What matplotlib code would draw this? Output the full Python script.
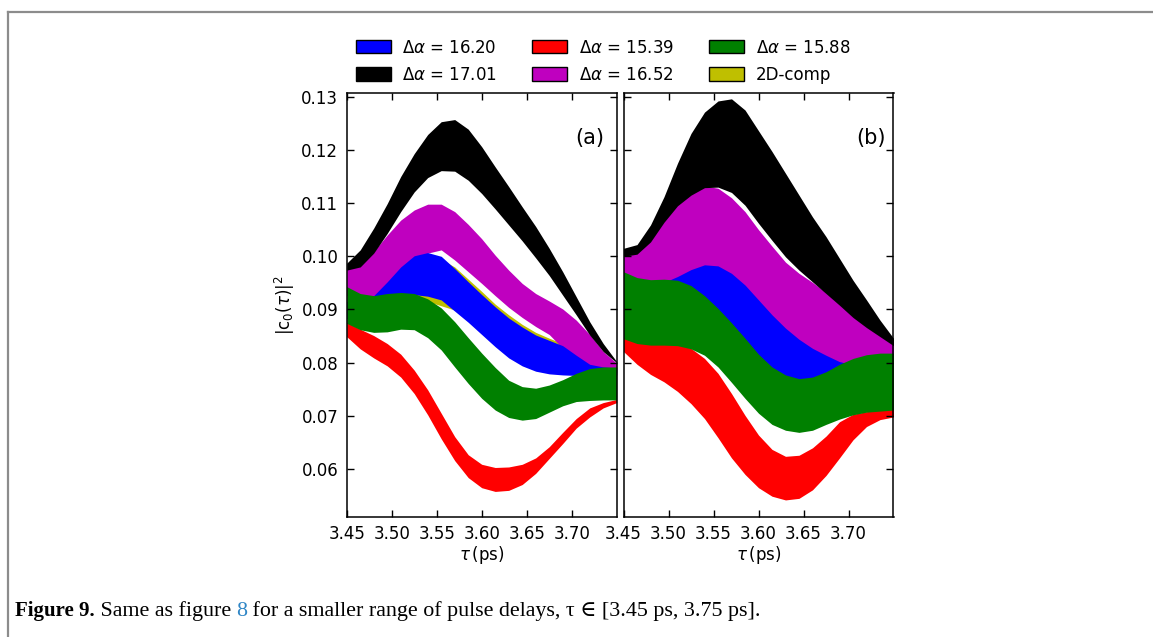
import numpy as np
import matplotlib.pyplot as plt
from matplotlib.patches import Patch
from matplotlib.lines import Line2D

# pulse delay grid (ps)
tau = [3.450, 3.465, 3.480, 3.495, 3.510, 3.525, 3.540, 3.555, 3.570, 3.585, 3.600,
       3.615, 3.630, 3.645, 3.660, 3.675, 3.690, 3.705, 3.720, 3.735, 3.750]

# panel (a): upper / lower edges of each band
a_black_hi = [0.0987, 0.1012, 0.1053, 0.1099, 0.1150, 0.1193, 0.1229, 0.1253, 0.1257, 0.1239, 0.1206,
              0.1168, 0.1131, 0.1093, 0.1056, 0.1015, 0.0971, 0.0924, 0.0877, 0.0836, 0.0802]
a_black_lo = [0.0974, 0.0980, 0.1006, 0.1043, 0.1084, 0.1121, 0.1148, 0.1161, 0.1160, 0.1143, 0.1118,
              0.1089, 0.1059, 0.1029, 0.0997, 0.0964, 0.0927, 0.0890, 0.0852, 0.0821, 0.0800]
a_mag_hi = [0.0975, 0.0984, 0.1009, 0.1040, 0.1068, 0.1087, 0.1098, 0.1098, 0.1084, 0.1060, 0.1033,
            0.1002, 0.0974, 0.0949, 0.0930, 0.0916, 0.0901, 0.0880, 0.0853, 0.0821, 0.0799]
a_mag_lo = [0.0926, 0.0921, 0.0921, 0.0933, 0.0958, 0.0983, 0.1006, 0.1012, 0.0993, 0.0971, 0.0949,
            0.0926, 0.0904, 0.0885, 0.0868, 0.0853, 0.0827, 0.0802, 0.0786, 0.0786, 0.0789]
a_blue_hi = [0.0915, 0.0918, 0.0926, 0.0952, 0.0980, 0.1001, 0.1007, 0.1000, 0.0977, 0.0952, 0.0928,
             0.0905, 0.0884, 0.0867, 0.0852, 0.0842, 0.0832, 0.0814, 0.0797, 0.0792, 0.0790]
a_blue_lo = [0.0883, 0.0883, 0.0890, 0.0899, 0.0912, 0.0928, 0.0925, 0.0918, 0.0897, 0.0876, 0.0853,
             0.0830, 0.0809, 0.0794, 0.0784, 0.0779, 0.0777, 0.0776, 0.0776, 0.0776, 0.0777]
a_yel_hi = [0.0908, 0.0911, 0.0920, 0.0946, 0.0974, 0.0995, 0.1000, 0.0994, 0.0980, 0.0957, 0.0934,
            0.0910, 0.0890, 0.0872, 0.0857, 0.0846, 0.0836, 0.0808, 0.0792, 0.0789, 0.0787]
a_yel_lo = [0.0890, 0.0890, 0.0896, 0.0905, 0.0918, 0.0921, 0.0915, 0.0907, 0.0899, 0.0880, 0.0858,
            0.0835, 0.0814, 0.0799, 0.0789, 0.0784, 0.0782, 0.0780, 0.0780, 0.0780, 0.0782]
a_green_hi = [0.0943, 0.0930, 0.0926, 0.0930, 0.0932, 0.0930, 0.0920, 0.0903, 0.0877, 0.0847, 0.0818,
              0.0791, 0.0767, 0.0755, 0.0752, 0.0758, 0.0768, 0.0780, 0.0789, 0.0792, 0.0792]
a_green_lo = [0.0874, 0.0862, 0.0857, 0.0858, 0.0863, 0.0862, 0.0847, 0.0824, 0.0792, 0.0761, 0.0733,
              0.0711, 0.0697, 0.0692, 0.0695, 0.0707, 0.0719, 0.0727, 0.0729, 0.0730, 0.0730]
a_red_hi = [0.0876, 0.0863, 0.0851, 0.0836, 0.0816, 0.0786, 0.0749, 0.0705, 0.0661, 0.0627, 0.0609,
            0.0603, 0.0604, 0.0609, 0.0621, 0.0642, 0.0669, 0.0695, 0.0715, 0.0725, 0.0731]
a_red_lo = [0.0849, 0.0826, 0.0809, 0.0794, 0.0773, 0.0742, 0.0702, 0.0657, 0.0616, 0.0584, 0.0565,
            0.0558, 0.0560, 0.0571, 0.0592, 0.0620, 0.0648, 0.0677, 0.0698, 0.0715, 0.0725]

# panel (b)
b_black_hi = [0.1015, 0.1022, 0.1059, 0.1112, 0.1175, 0.1231, 0.1271, 0.1292, 0.1296, 0.1275, 0.1236,
              0.1197, 0.1156, 0.1115, 0.1074, 0.1037, 0.0996, 0.0955, 0.0918, 0.0880, 0.0846]
b_black_lo = [0.1000, 0.1004, 0.1027, 0.1064, 0.1095, 0.1115, 0.1129, 0.1130, 0.1120, 0.1096, 0.1062,
              0.1030, 0.0999, 0.0974, 0.0952, 0.0930, 0.0908, 0.0885, 0.0866, 0.0849, 0.0832]
b_mag_hi = [0.1004, 0.1007, 0.1030, 0.1067, 0.1098, 0.1118, 0.1132, 0.1128, 0.1110, 0.1084, 0.1050,
            0.1019, 0.0989, 0.0968, 0.0951, 0.0932, 0.0910, 0.0887, 0.0868, 0.0851, 0.0834]
b_mag_lo = [0.0955, 0.0944, 0.0940, 0.0941, 0.0939, 0.0929, 0.0910, 0.0886, 0.0859, 0.0830, 0.0800,
            0.0776, 0.0761, 0.0754, 0.0757, 0.0767, 0.0781, 0.0792, 0.0799, 0.0802, 0.0802]
b_blue_hi = [0.0946, 0.0947, 0.0948, 0.0951, 0.0962, 0.0975, 0.0984, 0.0982, 0.0968, 0.0946, 0.0918,
             0.0890, 0.0865, 0.0844, 0.0827, 0.0814, 0.0802, 0.0796, 0.0792, 0.0790, 0.0788]
b_blue_lo = [0.0940, 0.0935, 0.0932, 0.0932, 0.0930, 0.0920, 0.0900, 0.0876, 0.0850, 0.0820, 0.0790,
             0.0768, 0.0752, 0.0745, 0.0748, 0.0758, 0.0772, 0.0775, 0.0778, 0.0780, 0.0780]
b_green_hi = [0.0971, 0.0960, 0.0956, 0.0957, 0.0955, 0.0945, 0.0926, 0.0902, 0.0875, 0.0846, 0.0816,
              0.0792, 0.0777, 0.0770, 0.0773, 0.0783, 0.0797, 0.0808, 0.0815, 0.0818, 0.0818]
b_green_lo = [0.0845, 0.0836, 0.0833, 0.0833, 0.0832, 0.0826, 0.0814, 0.0792, 0.0763, 0.0733, 0.0705,
              0.0684, 0.0673, 0.0669, 0.0673, 0.0684, 0.0694, 0.0702, 0.0707, 0.0709, 0.0711]
b_red_hi = [0.0847, 0.0840, 0.0836, 0.0836, 0.0834, 0.0827, 0.0808, 0.0780, 0.0742, 0.0701, 0.0664,
            0.0637, 0.0624, 0.0626, 0.0640, 0.0662, 0.0689, 0.0703, 0.0708, 0.0711, 0.0713]
b_red_lo = [0.0821, 0.0797, 0.0778, 0.0764, 0.0746, 0.0723, 0.0695, 0.0659, 0.0621, 0.0590, 0.0565,
            0.0549, 0.0542, 0.0545, 0.0561, 0.0588, 0.0621, 0.0655, 0.0680, 0.0693, 0.0698]

labels = [r'$\Delta\alpha$ = 16.20', r'$\Delta\alpha$ = 17.01', r'$\Delta\alpha$ = 15.39',
          r'$\Delta\alpha$ = 16.52', r'$\Delta\alpha$ = 15.88', '2D-comp']
colors = ['b', 'k', 'r', 'm', 'g', 'y']

xticks = [3.45, 3.50, 3.55, 3.60, 3.65, 3.70]
yticks = [0.06, 0.07, 0.08, 0.09, 0.10, 0.11, 0.12, 0.13]

W, H = 1153, 637
fig = plt.figure(figsize=(W / 100, H / 100), dpi=100)
ax_a = fig.add_axes([346.7 / W, 1 - 516.7 / H, 270 / W, 423.4 / H])
ax_b = fig.add_axes([623.5 / W, 1 - 516.7 / H, 270 / W, 423.4 / H])

# drawing order: yellow, magenta, blue, black, red, green
bands_a = [(a_yel_lo, a_yel_hi, 'y'), (a_mag_lo, a_mag_hi, 'm'), (a_blue_lo, a_blue_hi, 'b'),
           (a_black_lo, a_black_hi, 'k'), (a_red_lo, a_red_hi, 'r'), (a_green_lo, a_green_hi, 'g')]
bands_b = [(b_mag_lo, b_mag_hi, 'm'), (b_blue_lo, b_blue_hi, 'b'),
           (b_black_lo, b_black_hi, 'k'), (b_red_lo, b_red_hi, 'r'), (b_green_lo, b_green_hi, 'g')]

for ax, bands, tag, tx in [(ax_a, bands_a, '(a)', 0.90), (ax_b, bands_b, '(b)', 0.915)]:
    for lo, hi, c in bands:
        ax.fill_between(tau, lo, hi, color=c, lw=0)
    ax.set_xlim(3.45, 3.75)
    ax.set_ylim(0.05105, 0.13064)
    ax.set_xticks(xticks)
    ax.set_xticklabels(['%.2f' % v for v in xticks])
    ax.set_yticks(yticks)
    ax.set_yticklabels(['%.2f' % v for v in yticks])
    ax.tick_params(direction='in', top=True, right=True, length=5, width=1,
                   labelsize=12, pad=6)
    for s in ax.spines.values():
        s.set_linewidth(1.1)
    ax.set_xlabel(r'$\tau\,$(ps)', fontsize=12, labelpad=1)
    ax.text(tx, 0.895, tag, transform=ax.transAxes, fontsize=15, ha='center', va='center')

ax_b.tick_params(labelleft=False)
ax_a.set_ylabel(r'$|\mathrm{c}_0(\tau)|^2$', fontsize=12, labelpad=3)

handles = [Patch(facecolor=c, edgecolor='k', lw=1) for c in colors]
fig.legend(handles, labels, ncol=3, loc='center', bbox_to_anchor=(0.523, 0.904),
           frameon=False, fontsize=12, handlelength=2.1, handleheight=0.85,
           handletextpad=0.7, columnspacing=2.1, labelspacing=0.55)

# outer frame of the figure box
fig.add_artist(Line2D([8 / W, 1], [1 - 12 / H, 1 - 12 / H], transform=fig.transFigure,
                      color='#8c8c8c', lw=1.6))
fig.add_artist(Line2D([8 / W, 8 / W], [0, 1 - 12 / H], transform=fig.transFigure,
                      color='#8c8c8c', lw=1.6))

# caption, built from pieces
serif = ['Liberation Serif', 'DejaVu Serif']
r = fig.canvas.get_renderer()
x = 15 / W
y = 1 - 611 / H
pieces = [('Figure 9.', 'bold', 'black', 15), (' Same as figure ', 'normal', 'black', 15.8),
          ('8', 'normal', '#2f86c6', 15.8),
          (' for a smaller range of pulse delays, \u03c4 \u2208 [3.45 ps, 3.75 ps].', 'normal', 'black', 15.8)]
for s, wgt, col, fs in pieces:
    t = fig.text(x, y, s, family=serif, weight=wgt, color=col, fontsize=fs, va='center', ha='left')
    bb = t.get_window_extent(r)
    x = bb.x1 / W

fig.savefig('out.png', dpi=100)
